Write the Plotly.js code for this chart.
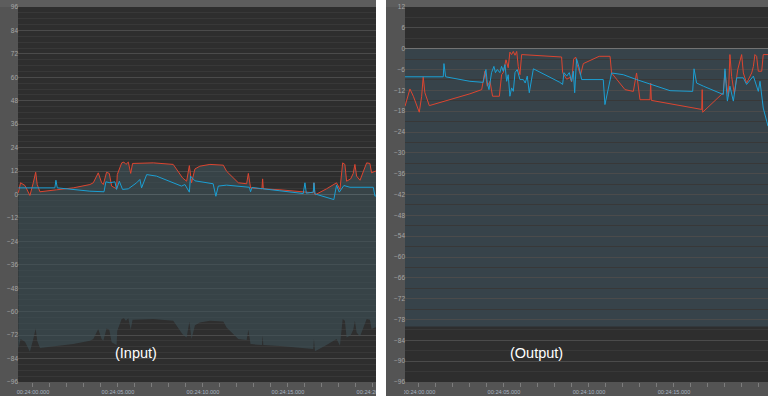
<!DOCTYPE html>
<html><head><meta charset="utf-8">
<script src="https://cdn.plot.ly/plotly-3.0.1.min.js"></script>
<style>html,body{margin:0;padding:0;background:#fff;}#chart{width:768px;height:396px;}</style>
</head><body><div id="chart"></div>
<script>
// ---- data (seconds after 00:24:00, level in dB) ----
const inPeakT = [-0.86,-0.73,-0.47,-0.18,0.02,0.16,0.25,0.41,1.39,2.37,3.35,3.55,3.84,4.04,4.14,4.33,4.49,4.63,4.92,4.96,5.22,5.35,5.47,5.61,5.75,5.86,7.08,8.25,8.8,9.04,9.2,9.33,9.53,9.82,10.41,11.2,11.39,12.08,12.57,12.67,12.8,13.47,13.51,13.55,14.53,16.1,16.49,16.53,16.59,17.27,17.86,18.06,18.22,18.35,18.45,18.69,18.84,18.94,19.04,19.24,19.63,19.82,19.92,20.12,20.2];
const inPeak = [0.9,6.0,4.6,-0.5,6.0,11.4,5.1,1.4,2.4,3.4,5.1,6.0,11.1,6.0,5.1,11.4,10.8,4.3,2.9,10.2,16.2,16.6,15.4,16.6,10.8,15.9,16.2,15.4,8.5,6.8,14.8,6.0,13.1,14.5,15.4,15.0,11.9,6.0,5.5,10.8,3.4,2.9,8.0,2.9,2.4,1.2,0.9,6.0,-0.2,2.9,6.0,2.6,16.2,15.4,6.8,8.0,10.8,15.4,9.4,7.3,16.2,15.9,11.1,11.9,12.0];
const inRmsT = [-0.86,1.29,1.35,1.43,3.35,3.94,4.18,4.29,4.53,4.82,4.92,5.08,5.27,5.61,6.1,6.29,6.39,6.69,7.27,8.74,8.94,9.2,9.27,9.53,10.6,10.76,10.9,11.39,12.18,12.73,12.8,12.88,14.53,15.9,16.0,16.08,16.49,16.53,16.59,17.7,17.86,18.02,18.29,18.65,20.02,20.12,20.2];
const inRms = [3.4,3.4,7.3,3.4,1.7,1.4,1.4,6.5,6.0,6.5,2.6,6.8,2.6,2.9,6.0,7.7,3.4,10.2,9.4,4.3,5.1,1.2,9.4,7.0,5.5,-0.9,4.3,4.8,4.3,3.7,1.4,3.6,1.9,0.5,6.0,0.7,1.2,6.0,0.3,-2.6,4.8,1.2,4.6,3.7,3.7,-0.9,-0.5];
const outPeakT = [-0.82,-0.53,-0.33,0.02,0.16,0.25,0.35,0.61,3.0,3.69,3.88,4.02,4.18,4.33,4.73,4.86,4.96,5.12,5.25,5.35,5.45,5.55,5.65,5.75,5.84,5.94,6.04,8.29,8.39,8.45,8.69,8.88,8.98,9.1,9.22,9.3,9.5,9.67,10.6,11.24,11.33,12.12,12.61,12.8,12.9,13.0,13.59,13.63,13.67,16.63,16.66,16.69,17.9,18.0,18.08,18.2,18.29,18.39,18.55,18.75,18.98,19.08,19.27,19.57,19.67,19.76,19.86,19.96,20.16,20.25,20.53];
const outPeak = [-16.6,-11.6,-13.7,-18.3,-13.7,-8.1,-12.7,-16.4,-13.0,-11.8,-6.5,-10.8,-9.4,-13.7,-13.7,-7.5,-6.9,-3.2,-5.5,-1.0,-1.7,-0.8,-1.9,-0.8,-5.1,-7.5,-1.7,-2.2,-2.4,-6.9,-8.8,-8.3,-9.6,-3.0,-2.4,-4.5,-7.6,-4.3,-2.2,-2.2,-7.0,-11.8,-12.3,-7.0,-11.3,-14.7,-14.7,-9.9,-14.9,-17.5,-11.8,-18.3,-12.7,-6.5,-10.0,-13.7,-1.7,-8.0,-13.0,-6.0,-1.7,-7.0,-9.9,-7.0,-5.1,-1.7,-2.2,-6.5,-6.5,-1.7,-1.7];
const outRmsT = [-0.82,1.43,1.47,1.57,3.0,3.78,3.94,4.02,4.12,4.27,4.41,4.5,4.61,4.76,4.86,4.96,5.06,5.16,5.25,5.35,5.45,5.55,5.65,5.78,5.94,6.14,6.25,6.37,6.49,6.63,6.73,8.29,8.45,8.53,8.69,8.84,8.98,9.08,9.16,9.27,9.35,9.43,9.57,10.84,10.94,11.2,11.33,12.02,12.8,14.77,16.1,16.18,16.33,16.73,17.9,18.0,18.14,18.29,18.49,18.69,19.08,19.27,19.67,19.96,20.06,20.25,20.53];
const outRms = [-8.1,-8.1,-4.3,-8.1,-9.4,-9.7,-6.0,-9.9,-11.8,-6.9,-5.1,-6.9,-6.0,-6.9,-5.1,-6.5,-4.6,-9.4,-7.5,-13.7,-11.3,-12.3,-6.9,-6.0,-8.9,-8.9,-9.9,-7.9,-12.7,-7.9,-5.8,-9.7,-10.3,-6.9,-7.9,-6.9,-9.4,-6.5,-12.7,-2.9,-4.0,-5.6,-8.9,-8.9,-16.1,-9.9,-7.0,-7.5,-8.9,-12.1,-12.3,-5.8,-9.9,-10.8,-13.2,-5.8,-15.1,-10.8,-15.1,-8.4,-8.4,-10.3,-7.9,-12.3,-9.4,-17.1,-22.3];
const tickSeconds = [0,5,10,15,20];
const tickLabels = ['00:24:00.000','00:24:05.000','00:24:10.000','00:24:15.000','00:24:20.000'];
const panelLabels = ['(Input)','(Output)'];
const inRangeDb = 80;      // displayed dynamic range below the input peak
const outCeiling = 0;      // output band top
const outFloor = -80;      // output band bottom
const inYRange = [-96, 96];
const outYRange = [-96, 12];
const inXRange = [-0.88, 20.18];
const outXRange = [-0.82, 20.53];

// ---- styling ----
const W = 768, H = 396;
const RED = '#dc4530', BLUE = '#1b9fd3';
const FILL_IN = 'rgba(61,81,89,0.6)', FILL_OUT = '#37434a';
const GRID = '#4b4b4b', MINOR = '#383838';
const px = v => v / W, py = v => 1 - v / H;

const inFloor = inPeak.map(v => v - inRangeDb);

const traces = [
  {x: inPeakT, y: inFloor, xaxis: 'x', yaxis: 'y', mode: 'lines', line: {width: 0, color: 'rgba(0,0,0,0)'}, hoverinfo: 'skip', showlegend: false},
  {x: inPeakT, y: inPeak, xaxis: 'x', yaxis: 'y', mode: 'lines', fill: 'tonexty', fillcolor: FILL_IN, line: {width: 1, color: RED}, showlegend: false},
  {x: inRmsT, y: inRms, xaxis: 'x', yaxis: 'y', mode: 'lines', line: {width: 1, color: BLUE}, showlegend: false},
  {x: outPeakT, y: outPeak, xaxis: 'x2', yaxis: 'y2', mode: 'lines', line: {width: 1, color: RED}, showlegend: false},
  {x: outRmsT, y: outRms, xaxis: 'x2', yaxis: 'y2', mode: 'lines', line: {width: 1, color: BLUE}, showlegend: false}
];

const xCommon = {
  tickmode: 'array', tickvals: tickSeconds, ticktext: tickLabels,
  ticks: 'outside', ticklen: 4, tickcolor: '#7c7c7c', tickwidth: 1,
  showgrid: false, zeroline: false, showline: false,
  tickfont: {family: 'Liberation Sans, Arial, sans-serif', size: 5.6, color: '#a9b3c0'},
  minor: {tickmode: 'linear', tick0: 0, dtick: 1, ticks: 'outside', ticklen: 4, tickcolor: '#7c7c7c', showgrid: false},
  fixedrange: true
};
const yCommon = {
  ticks: '', showline: false,
  showgrid: true, gridcolor: GRID, gridwidth: 1,
  zeroline: true, zerolinecolor: '#727272', zerolinewidth: 1,
  tickfont: {family: 'Liberation Sans, Arial, sans-serif', size: 6.5, color: '#a6a6a6'},
  minor: {tickmode: 'linear', tick0: 0, dtick: 3, showgrid: true, gridcolor: MINOR, gridwidth: 1, ticks: ''},
  ticklabelstandoff: -1,
  fixedrange: true
};

const layout = {
  width: W, height: H,
  margin: {l: 0, r: 0, t: 0, b: 0},
  paper_bgcolor: '#545454', plot_bgcolor: '#2e2e2e',
  showlegend: false,
  xaxis: Object.assign({}, xCommon, {domain: [px(18), px(376)], range: inXRange, anchor: 'y'}),
  xaxis2: Object.assign({}, xCommon, {domain: [px(405), 1], range: outXRange, anchor: 'y2'}),
  yaxis: Object.assign({}, yCommon, {domain: [py(382), py(7)], range: inYRange, tickmode: 'linear', tick0: 0, dtick: 12, anchor: 'x'}),
  yaxis2: Object.assign({}, yCommon, {domain: [py(382), py(7)], range: outYRange, tickmode: 'linear', tick0: 0, dtick: 6, anchor: 'x2'}),
  shapes: [
    {type: 'rect', xref: 'paper', yref: 'paper', x0: 0, x1: 1, y0: py(7), y1: 1, fillcolor: '#5d5d5d', line: {width: 0}, layer: 'below'},
    {type: 'rect', xref: 'x2', yref: 'y2', x0: outXRange[0], x1: outXRange[1], y0: outFloor, y1: outCeiling, fillcolor: FILL_OUT, line: {width: 0}, layer: 'below'},
    {type: 'rect', xref: 'paper', yref: 'paper', x0: px(386), x1: px(404), y0: 0, y1: py(387), fillcolor: '#545454', line: {width: 0}, layer: 'above'},
    {type: 'rect', xref: 'paper', yref: 'paper', x0: px(376), x1: px(386), y0: 0, y1: 1, fillcolor: '#ffffff', line: {width: 0}, layer: 'above'}
  ],
  annotations: [
    {text: panelLabels[0], xref: 'paper', yref: 'paper', x: px(136), y: py(353), xanchor: 'center', yanchor: 'middle', showarrow: false, font: {family: 'Liberation Sans, Arial, sans-serif', size: 14.5, color: '#ffffff'}},
    {text: panelLabels[1], xref: 'paper', yref: 'paper', x: px(536), y: py(353), xanchor: 'center', yanchor: 'middle', showarrow: false, font: {family: 'Liberation Sans, Arial, sans-serif', size: 14.5, color: '#ffffff'}}
  ]
};

Plotly.newPlot('chart', traces, layout, {staticPlot: true, displayModeBar: false});
</script>
</body></html>
